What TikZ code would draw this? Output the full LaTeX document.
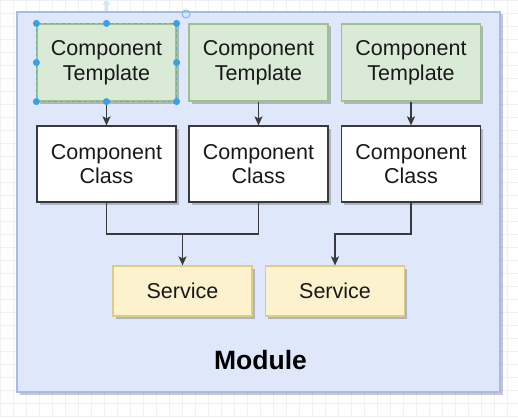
\documentclass[tikz,border=0pt]{standalone}
\usepackage{fontspec}
\setmainfont{Liberation Sans}
\usetikzlibrary{shadows,arrows.meta}
\definecolor{modfill}{HTML}{DFE7FB}
\definecolor{moddraw}{HTML}{A6BCE6}
\definecolor{tplfill}{HTML}{D9EAD6}
\definecolor{tpldraw}{HTML}{9CC28C}
\definecolor{svcfill}{HTML}{FDF2CE}
\definecolor{svcdraw}{HTML}{E0CB85}
\definecolor{boxdraw}{HTML}{3A3A3A}
\definecolor{selblue}{HTML}{3AA0E6}
\definecolor{gridc}{HTML}{F1F1F1}
\tikzset{
  x=1pt, y=-1pt,
  shad/.style={drop shadow={shadow xshift=2.5pt, shadow yshift=-2.5pt, opacity=0.22, fill=black}},
  basebox/.style={rectangle, shad, line width=1.2pt, minimum width=139pt, align=center,
    font=\fontsize{21.5}{24.5}\selectfont, text=black!90, inner sep=0pt},
  tplbox/.style={basebox, fill=tplfill, draw=tpldraw, minimum height=77pt},
  clsbox/.style={basebox, fill=white, draw=boxdraw, minimum height=76pt},
  svcbox/.style={basebox, fill=svcfill, draw=svcdraw, minimum height=50pt},
  link/.style={draw=boxdraw, line width=1.2pt},
  arr/.style={link, -{Stealth[length=9pt, width=8pt, inset=2pt]}},
  handle/.style={circle, fill=selblue, inner sep=0pt, minimum size=7pt}
}
\begin{document}
\begin{tikzpicture}
\useasboundingbox (0,0) rectangle (518,417);
\fill[white] (0,0) rectangle (518,417);
\draw[gridc, line width=0.6pt, step=13pt] (0,0) grid (518,417);
% module
\node[draw=moddraw, fill=modfill, line width=1.2pt, shad, minimum width=483pt, minimum height=380pt, inner sep=0pt] (mod) at (258.5,202) {};
\node[font=\fontsize{26.5}{30}\selectfont\bfseries, text=black] (modlabel) at (260.5,360.5) {Module};
% templates
\node[tplbox] (t1) at (106.5,62.5) {Component\\Template};
\node[tplbox] (t2) at (258.5,62.5) {Component\\Template};
\node[tplbox] (t3) at (411,62.5) {Component\\Template};
% classes
\node[clsbox] (c1) at (106.5,164) {Component\\Class};
\node[clsbox] (c2) at (258.5,164) {Component\\Class};
\node[clsbox] (c3) at (411,164) {Component\\Class};
% services
\node[svcbox] (s1) at (182.5,291) {Service};
\node[svcbox] (s2) at (335,291) {Service};
% connectors
\draw[arr] (t1) -- (c1);
\draw[arr] (t2) -- (c2);
\draw[arr] (t3) -- (c3);
\coordinate (j1) at (182.5,234);
\coordinate (j2) at (335,234);
\draw[link] (c1.south) |- (j1) -| (c2.south);
\draw[arr] (j1) -- (s1.north);
\draw[arr] (c3.south) |- (j2) -- (s2.north);
% selection artifacts
\draw[selblue!60!tpldraw, dashed, line width=0.8pt] (t1.north west) rectangle (t1.south east);
\foreach \p in {north west,north,north east,west,east,south west,south,south east}
  \node[handle] at (t1.\p) {};
\node[circle, draw=selblue!70, line width=1pt, inner sep=0pt, minimum size=8pt] (rot) at (186,14) {};
\draw[selblue!25, line width=2.5pt, -{Triangle[length=5pt,width=8pt]}] (106.5,11) -- (106.5,0);
\end{tikzpicture}
\end{document}
